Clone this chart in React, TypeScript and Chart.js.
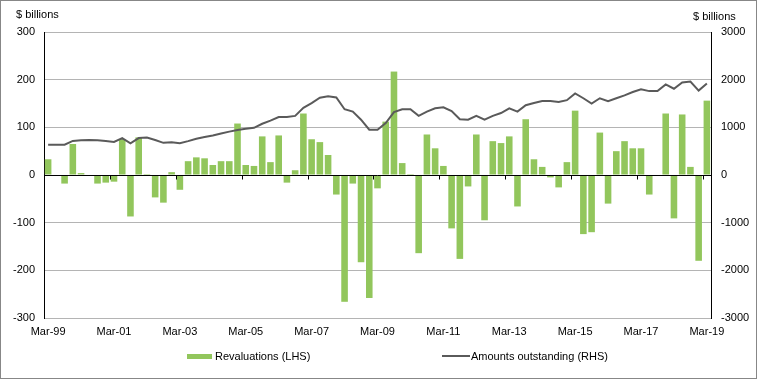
import React, { useEffect, useRef } from 'react';
import { Chart, registerables } from 'chart.js';

Chart.register(...registerables);

const categories = [
  'Mar-99', 'Jun-99', 'Sep-99', 'Dec-99', 'Mar-00', 'Jun-00', 'Sep-00', 'Dec-00',
  'Mar-01', 'Jun-01', 'Sep-01', 'Dec-01', 'Mar-02', 'Jun-02', 'Sep-02', 'Dec-02',
  'Mar-03', 'Jun-03', 'Sep-03', 'Dec-03', 'Mar-04', 'Jun-04', 'Sep-04', 'Dec-04',
  'Mar-05', 'Jun-05', 'Sep-05', 'Dec-05', 'Mar-06', 'Jun-06', 'Sep-06', 'Dec-06',
  'Mar-07', 'Jun-07', 'Sep-07', 'Dec-07', 'Mar-08', 'Jun-08', 'Sep-08', 'Dec-08',
  'Mar-09', 'Jun-09', 'Sep-09', 'Dec-09', 'Mar-10', 'Jun-10', 'Sep-10', 'Dec-10',
  'Mar-11', 'Jun-11', 'Sep-11', 'Dec-11', 'Mar-12', 'Jun-12', 'Sep-12', 'Dec-12',
  'Mar-13', 'Jun-13', 'Sep-13', 'Dec-13', 'Mar-14', 'Jun-14', 'Sep-14', 'Dec-14',
  'Mar-15', 'Jun-15', 'Sep-15', 'Dec-15', 'Mar-16', 'Jun-16', 'Sep-16', 'Dec-16',
  'Mar-17', 'Jun-17', 'Sep-17', 'Dec-17', 'Mar-18', 'Jun-18', 'Sep-18', 'Dec-18',
  'Mar-19',
];

// Revaluations, $ billions (LHS)
const revaluations = [
  33, 0, -18, 65, 4, 0, -18, -16,
  -14, 75, -87, 79, 2, -47, -58, 6,
  -31, 29, 37, 35, 21, 29, 29, 108,
  21, 19, 81, 27, 83, -16, 10, 129,
  75, 69, 42, -41, -266, -18, -183, -258,
  -28, 112, 217, 25, 2, -164, 85, 56,
  19, -112, -176, -24, 85, -95, 71, 67,
  81, -66, 117, 33, 17, -5, -26, 27,
  135, -124, -120, 89, -60, 50, 71, 56,
  56, -41, 0, 129, -91, 127, 17, -180,
  156,
];

// Amounts outstanding, $ billions (RHS)
const amountsOutstanding = [
  635, 635, 635, 715, 730, 735, 730, 712,
  695, 775, 665, 775, 785, 735, 675, 685,
  665, 710, 760, 795, 830, 870, 910, 945,
  970, 990, 1075, 1140, 1215, 1215, 1240, 1410,
  1510, 1620, 1650, 1625, 1380, 1330, 1160, 950,
  950, 1090, 1320, 1380, 1380, 1240, 1330, 1400,
  1420, 1340, 1170, 1160, 1240, 1160, 1240, 1300,
  1400, 1330, 1465, 1510, 1550, 1550, 1530, 1570,
  1710, 1610, 1500, 1610, 1550, 1610, 1670, 1740,
  1800, 1760, 1760, 1900, 1810, 1940, 1960, 1770,
  1920,
];

const leftTickStep = 100;
const rightTickStep = 1000;

const FONT = '"Liberation Sans", Arial, sans-serif';
const BAR_COLOR = '#92c65c';
const LINE_COLOR = '#5a5a5a';

export default function App() {
  const ref = useRef<HTMLCanvasElement>(null);

  useEffect(() => {
    const zeroAxis = {
      id: 'zeroAxis',
      afterDatasetsDraw(chart: any) {
        const { ctx, chartArea } = chart;
        const x = chart.scales.x;
        const y = chart.scales.y;
        const y0 = Math.round(y.getPixelForValue(0)) + 0.5;
        const half = (x.getPixelForValue(1) - x.getPixelForValue(0)) / 2;
        ctx.save();
        ctx.strokeStyle = '#000';
        ctx.lineWidth = 1;
        ctx.beginPath();
        ctx.moveTo(chartArea.left, y0);
        ctx.lineTo(chartArea.right, y0);
        for (let i = 8; i < categories.length; i += 8) {
          const px = Math.round(x.getPixelForValue(i) - half) + 0.5;
          ctx.moveTo(px, y0);
          ctx.lineTo(px, y0 + 4);
        }
        ctx.stroke();
        ctx.restore();
      },
    };

    const chart = new Chart(ref.current as HTMLCanvasElement, {
      type: 'bar',
      data: {
        labels: categories,
        datasets: [
          {
            type: 'line',
            label: 'Amounts outstanding (RHS)',
            data: amountsOutstanding,
            yAxisID: 'y1',
            borderColor: LINE_COLOR,
            borderWidth: 2,
            pointRadius: 0,
            tension: 0,
            order: 0,
          } as any,
          {
            type: 'bar',
            label: 'Revaluations (LHS)',
            data: revaluations,
            yAxisID: 'y',
            backgroundColor: BAR_COLOR,
            categoryPercentage: 1,
            barPercentage: 0.8,
            order: 1,
          },
        ],
      },
      options: {
        responsive: false,
        animation: false,
        layout: { padding: { top: 32, left: 0, right: 0, bottom: 0 } },
        plugins: {
          legend: { display: false },
          tooltip: { enabled: false },
        },
        scales: {
          x: {
            offset: true,
            grid: { display: false, drawTicks: false },
            border: { display: false },
            ticks: {
              autoSkip: false,
              maxRotation: 0,
              minRotation: 0,
              padding: 7,
              color: '#000',
              font: { family: FONT, size: 11 },
              callback: (_v: any, i: number) => (i % 8 === 0 ? categories[i] : ''),
            },
            afterFit: (s: any) => {
              s.height = 61;
            },
          },
          y: {
            position: 'left',
            min: -300,
            max: 300,
            ticks: {
              stepSize: leftTickStep,
              padding: 9,
              color: '#000',
              font: { family: FONT, size: 11 },
              callback: (v: any) => String(v),
            },
            grid: { color: '#b4b4b4', drawTicks: false },
            border: { display: true, color: '#000', width: 1 },
            afterFit: (s: any) => {
              s.width = 44;
            },
          },
          y1: {
            position: 'right',
            min: -3000,
            max: 3000,
            ticks: {
              stepSize: rightTickStep,
              padding: 10,
              color: '#000',
              font: { family: FONT, size: 11 },
              callback: (v: any) => String(v),
            },
            grid: { drawOnChartArea: false, drawTicks: false },
            border: { display: true, color: '#000', width: 1 },
            afterFit: (s: any) => {
              s.width = 46;
            },
          },
        },
      },
      plugins: [zeroAxis],
    });
    return () => chart.destroy();
  }, []);

  const textStyle: React.CSSProperties = {
    position: 'absolute',
    fontFamily: FONT,
    fontSize: 11,
    lineHeight: '13px',
    color: '#000',
    whiteSpace: 'nowrap',
  };

  return (
    <div style={{ position: 'fixed', left: 0, top: 0, width: 757, height: 379, background: '#fff' }}>
      <canvas ref={ref} width={757} height={379} style={{ position: 'absolute', left: 0, top: 0 }} />
      <div style={{ ...textStyle, left: 16, top: 8 }}>$ billions</div>
      <div style={{ ...textStyle, left: 693, top: 10 }}>$ billions</div>
      <div style={{ position: 'absolute', left: 187, top: 354, width: 25, height: 5, background: BAR_COLOR }} />
      <div style={{ ...textStyle, left: 215, top: 350 }}>Revaluations (LHS)</div>
      <div style={{ position: 'absolute', left: 442, top: 355, width: 28, height: 2, background: LINE_COLOR }} />
      <div style={{ ...textStyle, left: 471, top: 350 }}>Amounts outstanding (RHS)</div>
      <div
        style={{
          position: 'absolute',
          left: 0,
          top: 0,
          width: 757,
          height: 379,
          boxSizing: 'border-box',
          border: '1px solid #878787',
          pointerEvents: 'none',
        }}
      />
    </div>
  );
}
